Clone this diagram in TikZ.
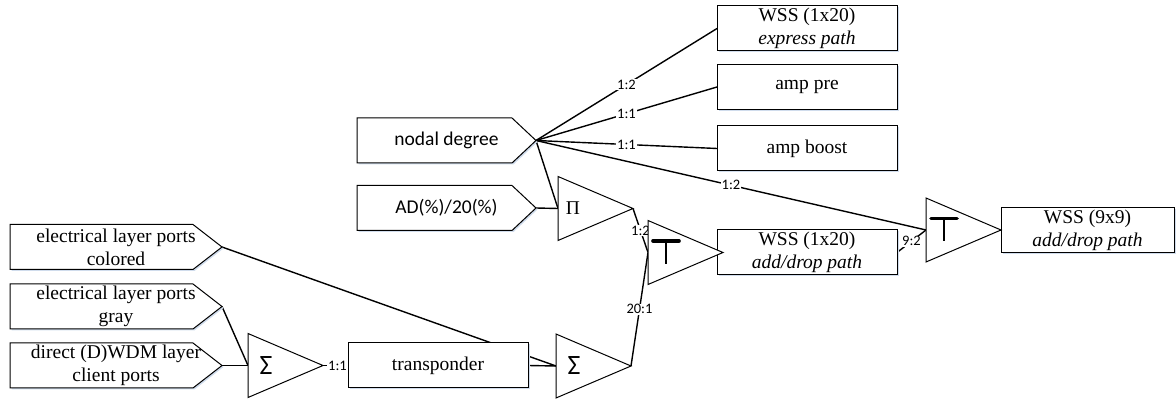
\documentclass[tikz,border=0pt]{standalone}
\usepackage{fontspec}
\setmainfont{Liberation Serif}
\newfontfamily\calibf{Carlito}
\usetikzlibrary{shapes.geometric,shadows,backgrounds}
\definecolor{shad}{RGB}{208,220,236}
\begin{document}
\begin{tikzpicture}[x=1pt,y=-1pt,
  outl/.style={line width=1pt},
  conn/.style={line width=1.4pt},
  box/.style={draw, fill=white, line width=1pt, minimum width=180pt, minimum height=45pt,
    inner sep=0pt, outer sep=0pt, align=center, font=\fontsize{19.5}{23}\selectfont,
    drop shadow={shadow xshift=1.5pt, shadow yshift=-1.5pt, fill=shad, opacity=1}},
  pent/.style={minimum height=45pt, inner sep=0pt, outer sep=0pt, align=center,
    font=\fontsize{19.5}{23}\selectfont},
  tri/.style={draw, fill=white, line width=1pt, isosceles triangle, isosceles triangle stretches,
    minimum width=64pt, minimum height=75pt, inner sep=0pt, outer sep=0pt, anchor=lower side},
  lbl/.style={fill=white, inner sep=0.8pt, font=\calibf\fontsize{14.5}{16}\selectfont},
  tbar/.style={line width=3.6pt, line cap=round},
  tstem/.style={line width=1.5pt}
]
\useasboundingbox (0,0) rectangle (1176,403);

% pentagon labels
\node[pent, minimum width=212pt] (col) at (116,247) {electrical layer ports\\colored};
\node[pent, minimum width=212pt] (gray) at (116,306.5) {electrical layer ports\\gray};
\node[pent, minimum width=212pt] (dwdm) at (116,365.5) {direct (D)WDM layer\\client ports};
\node[pent, minimum width=179pt, font=\calibf\fontsize{19.5}{23}\selectfont] (nd) at (446.5,140.5) {nodal degree};
\node[pent, minimum width=179pt, font=\calibf\fontsize{19.5}{23}\selectfont] (ad) at (446.5,208) {AD(\%)/20(\%)};

% boxes
\node[box] (wx) at (807,28.5) {WSS (1x20)\\\textit{express path}};
\node[box] (ap) at (807,87) {amp pre};
\node[box] (ab) at (807,148.5) {amp boost};
\node[box] (wad) at (807,252.5) {WSS (1x20)\\\textit{add/drop path}};
\node[box, minimum width=173pt] (w99) at (1087.5,230.5) {WSS (9x9)\\\textit{add/drop path}};
\node[box] (tr) at (438,365.5) {transponder};

% triangles
\node[tri] (s1) at (248,365.5) {};
\node[tri] (s2) at (556,366) {};
\node[tri] (pi) at (558,208.5) {};
\node[tri] (t1) at (648,252.5) {};
\node[tri] (t2) at (926,230) {};

% symbols
\node[font=\calibf\fontsize{28}{30}\selectfont] (sg1) at (266,366) {Σ};
\node[font=\calibf\fontsize{28}{30}\selectfont] (sg2) at (574,366) {Σ};
\node[font=\fontsize{19.5}{23}\selectfont] (pis) at (573,208) {Π};
\foreach \t in {t1,t2}{
  \draw[tbar] ([shift={(5,-11.5)}]\t.lower side) -- ([shift={(31,-11.5)}]\t.lower side);
  \draw[tstem] ([shift={(18,-11.5)}]\t.lower side) -- ([shift={(18,11.5)}]\t.lower side);
}

\begin{scope}[on background layer]
  \draw[conn] (col.east) -- (s2.lower side);
  \draw[conn] (gray.east) -- (s1.lower side);
  \draw[conn] (dwdm.east) -- (s1.lower side);
  \draw[conn] (s1.apex) -- node[lbl, pos=0.58] {1:1} (tr.west);
  \draw[conn] (tr.east) -- (s2.lower side);
  \draw[conn] (nd.east) -- (pi.lower side);
  \draw[conn] (ad.east) -- (pi.lower side);
  \draw[conn] (nd.east) -- node[lbl] {1:2} (wx.west);
  \draw[conn] (nd.east) -- node[lbl] {1:1} (ap.west);
  \draw[conn] (nd.east) -- node[lbl] {1:1} (ab.west);
  \draw[conn] (nd.east) -- node[lbl] {1:2} (t2.lower side);
  \draw[conn] (pi.apex) -- node[lbl] {1:2} (t1.lower side);
  \draw[conn] (s2.apex) -- node[lbl] {20:1} (t1.lower side);
  \draw[conn] (t1.apex) -- (wad.west);
  \draw[conn] (wad.east) -- node[lbl] {9:2} (t2.lower side);
  \draw[conn] (t2.apex) -- (w99.west);
  \foreach \n/\d in {col/29,gray/29,dwdm/29,nd/24,ad/24}{
    \draw[outl, fill=white, preaction={fill=shad, transform canvas={xshift=1.5pt,yshift=-1.5pt}}]
      (\n.north west) -- ([xshift=-\d pt]\n.north east) -- (\n.east)
      -- ([xshift=-\d pt]\n.south east) -- (\n.south west) -- cycle;
  }
\end{scope}
\end{tikzpicture}
\end{document}
